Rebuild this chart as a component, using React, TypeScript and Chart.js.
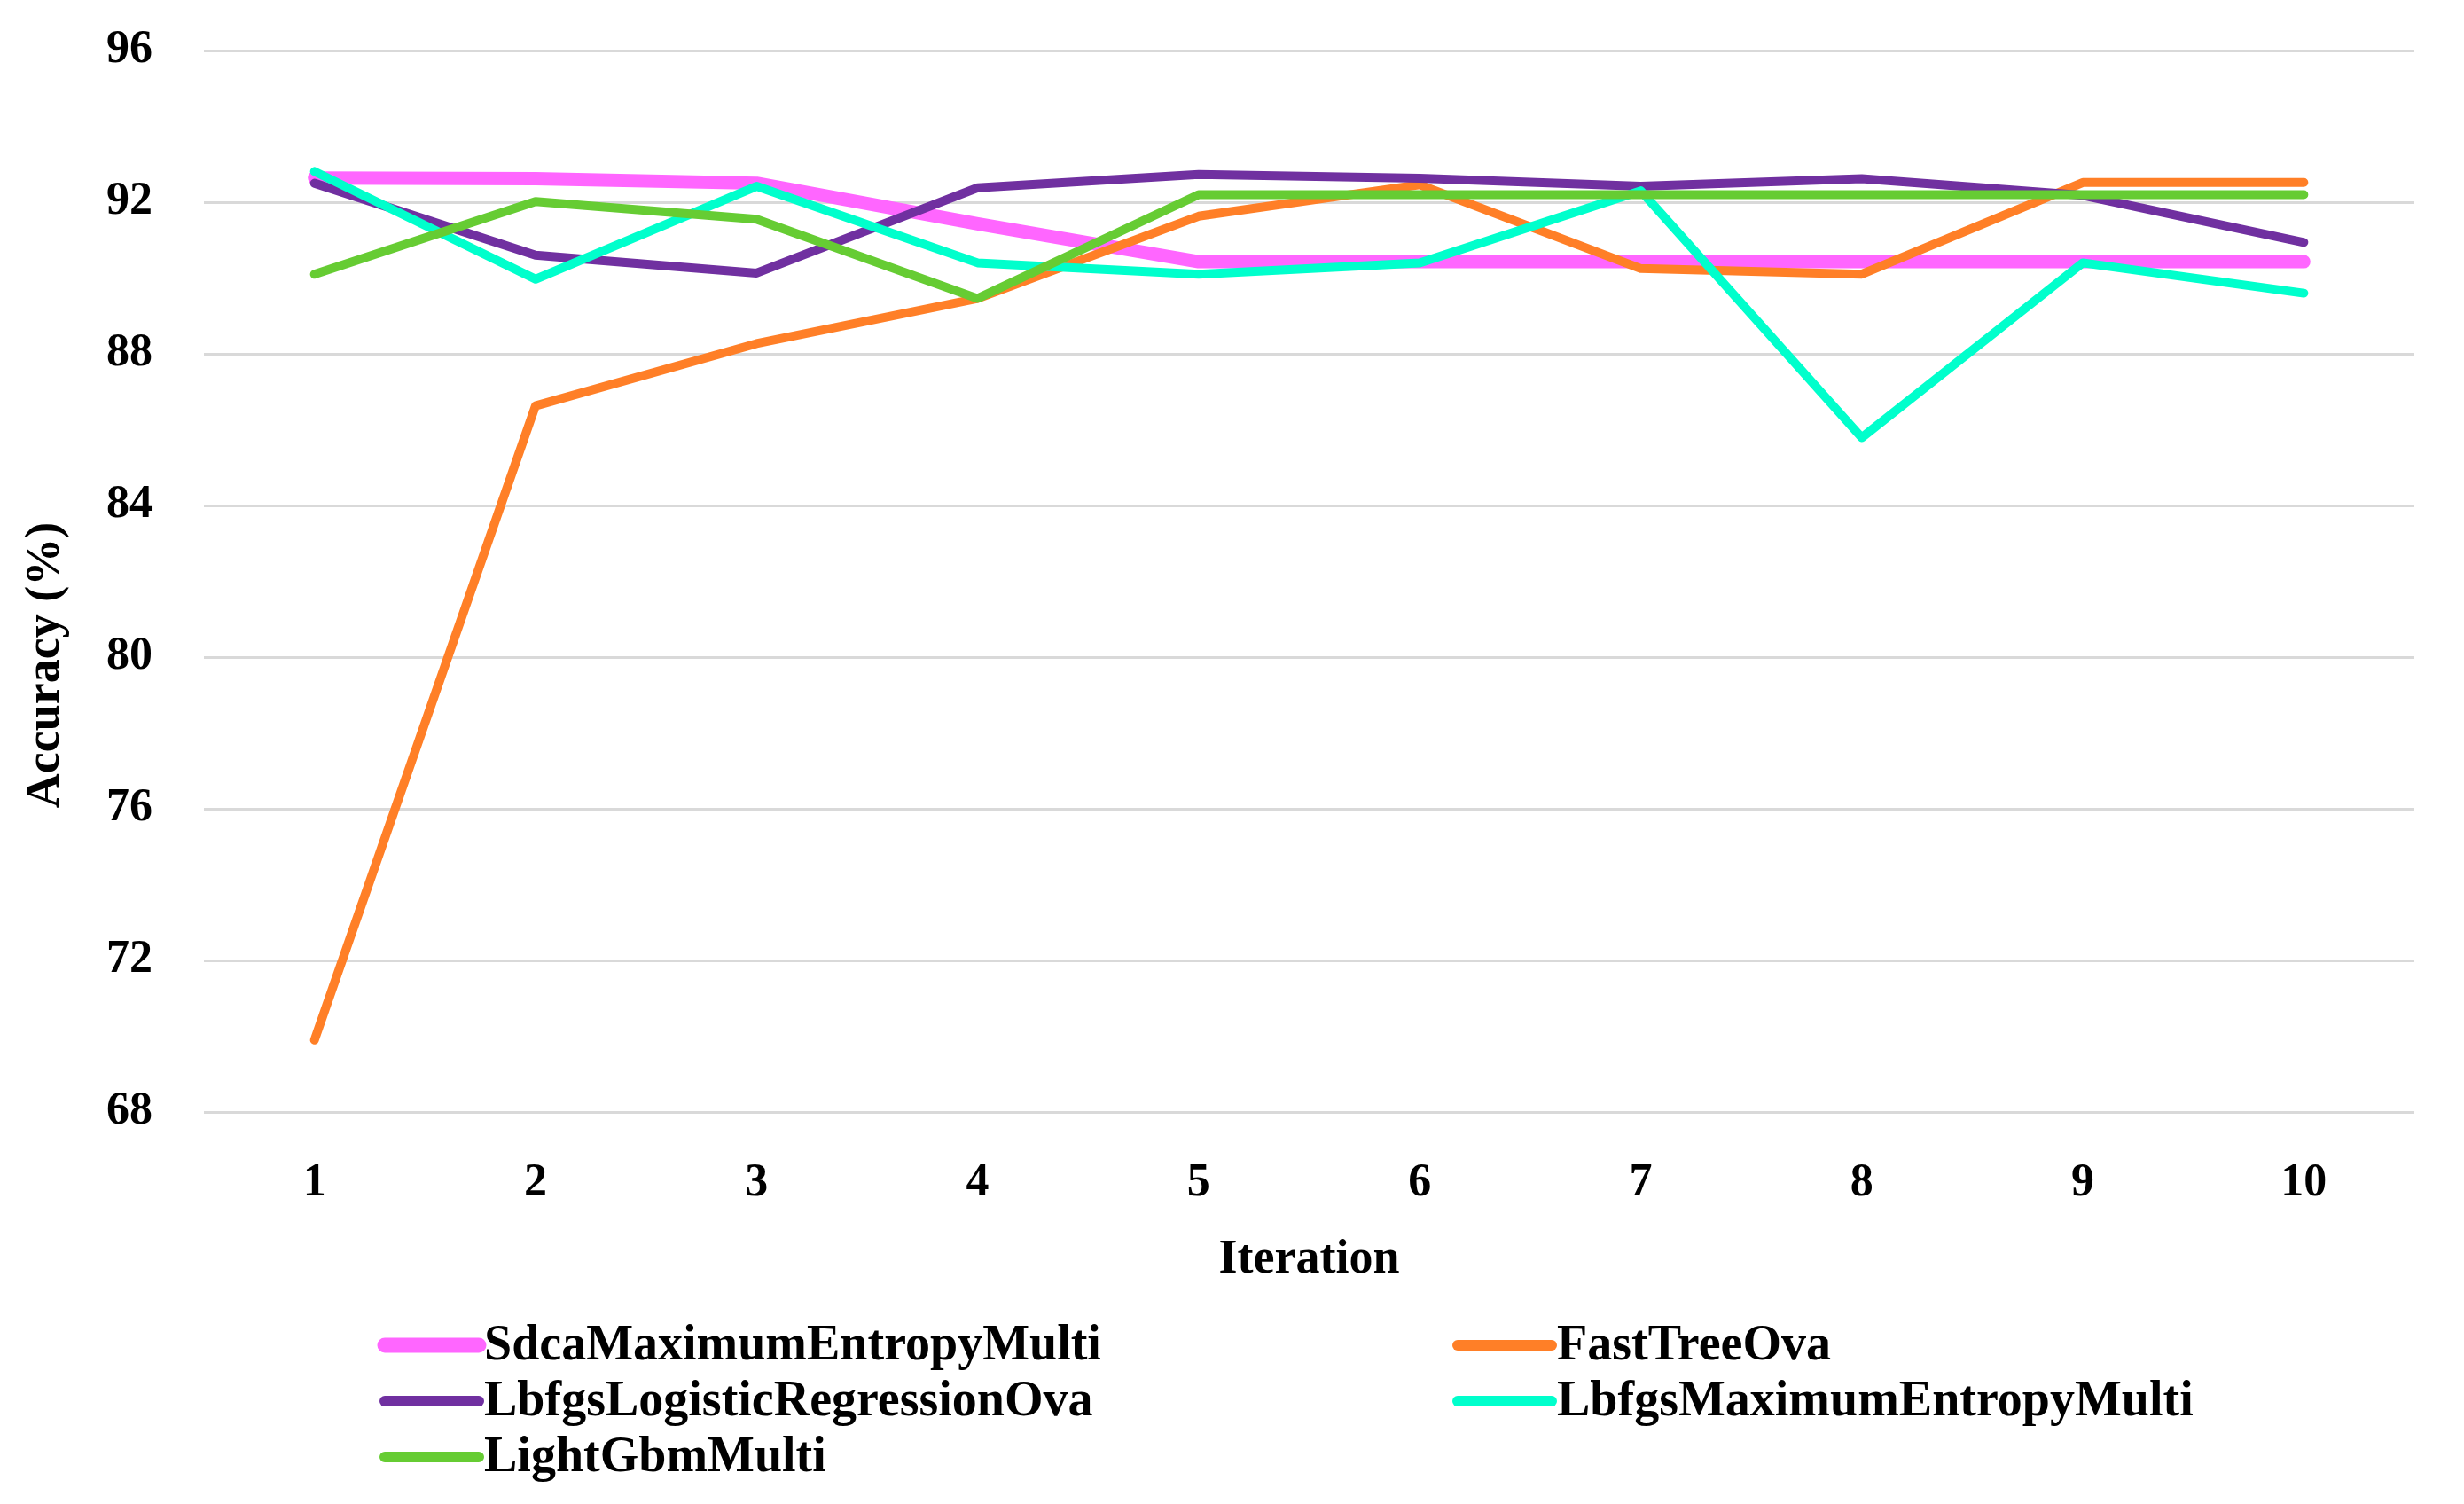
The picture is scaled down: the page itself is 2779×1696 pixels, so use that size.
import React, { useEffect, useRef } from "react";
import { Chart, registerables } from "chart.js";

Chart.register(...registerables);

const iterations = ["1", "2", "3", "4", "5", "6", "7", "8", "9", "10"];
const seriesNames = [
  "SdcaMaximumEntropyMulti",
  "FastTreeOva",
  "LbfgsLogisticRegressionOva",
  "LbfgsMaximumEntropyMulti",
  "LightGbmMulti",
];
const sdcaMaximumEntropyMulti = [92.64, 92.62, 92.5, 91.43, 90.43, 90.43, 90.43, 90.43, 90.43, 90.43];
const fastTreeOva = [69.9, 86.63, 88.27, 89.46, 91.63, 92.46, 90.25, 90.1, 92.52, 92.52];
const lbfgsLogisticRegressionOva = [92.5, 90.6, 90.13, 92.38, 92.73, 92.63, 92.42, 92.62, 92.18, 90.94];
const lbfgsMaximumEntropyMulti = [92.81, 89.97, 92.42, 90.4, 90.1, 90.4, 92.3, 85.79, 90.4, 89.6];
const lightGbmMulti = [90.1, 92.02, 91.55, 89.46, 92.2, 92.2, 92.2, 92.2, 92.2, 92.2];
const yTickMin = 68;
const yTickMax = 96;
const yTickStep = 4;

const seriesValues = [
  sdcaMaximumEntropyMulti,
  fastTreeOva,
  lbfgsLogisticRegressionOva,
  lbfgsMaximumEntropyMulti,
  lightGbmMulti,
];
const seriesColors = ["#FF66FF", "#FF7F27", "#7030A0", "#00FFCC", "#66CC33"];
const seriesWidths = [15, 10, 10, 10, 10];

const FONT = "'Liberation Serif', 'Times New Roman', serif";

const gridLegendPlugin = {
  id: "gridLegend",
  afterDraw(chart: any, _args: any, opts: any) {
    const ctx = chart.ctx;
    ctx.save();
    ctx.font = `bold ${opts.fontSize}px ${FONT}`;
    ctx.textBaseline = "middle";
    ctx.textAlign = "left";
    chart.data.datasets.forEach((ds: any, i: number) => {
      const col = i % 2;
      const row = Math.floor(i / 2);
      const x0 = opts.columnX[col];
      const y = opts.rowY[row];
      ctx.strokeStyle = ds.borderColor;
      ctx.lineWidth = ds.borderWidth + 2;
      ctx.lineCap = "round";
      ctx.beginPath();
      ctx.moveTo(x0, y);
      ctx.lineTo(x0 + opts.swatchWidth, y);
      ctx.stroke();
      ctx.fillStyle = "#000";
      ctx.fillText(ds.label, x0 + opts.swatchWidth + opts.gap, y + 2);
    });
    ctx.restore();
  },
};

export default function App() {
  const canvasRef = useRef<HTMLCanvasElement | null>(null);

  useEffect(() => {
    if (!canvasRef.current) return;
    const datasets = seriesNames.map((name, i) => ({
      label: name,
      data: seriesValues[i],
      borderColor: seriesColors[i],
      backgroundColor: seriesColors[i],
      borderWidth: seriesWidths[i],
      borderCapStyle: "round" as const,
      borderJoinStyle: "round" as const,
      pointRadius: 0,
      pointHoverRadius: 0,
      tension: 0,
      fill: false,
      order: seriesNames.length - i,
    }));

    const chart = new Chart(canvasRef.current, {
      type: "line",
      data: { labels: iterations, datasets },
      plugins: [gridLegendPlugin],
      options: {
        animation: false,
        responsive: true,
        maintainAspectRatio: false,
        layout: { padding: { top: 57, right: 56, bottom: 243, left: 0 } },
        plugins: {
          legend: { display: false },
          tooltip: { enabled: false },
          gridLegend: {
            fontSize: 56,
            columnX: [434, 1644],
            rowY: [1517, 1580, 1643],
            swatchWidth: 106,
            gap: 6,
          },
        } as any,
        scales: {
          x: {
            type: "category",
            offset: true,
            grid: { display: false, drawTicks: false },
            border: { display: false },
            ticks: {
              color: "#000",
              font: { family: FONT, size: 52, weight: "bold" },
              padding: 49,
              maxRotation: 0,
            },
            title: {
              display: true,
              text: "Iteration",
              color: "#000",
              font: { family: FONT, size: 54, weight: "bold" },
              padding: { top: 0, bottom: 0 },
            },
            afterFit: (scale: any) => {
              scale.height = 199;
            },
          },
          y: {
            min: yTickMin,
            max: yTickMax,
            grid: { color: "#D9D9D9", lineWidth: 3, drawTicks: false },
            border: { display: false },
            ticks: {
              stepSize: yTickStep,
              color: "#000",
              font: { family: FONT, size: 52, weight: "bold" },
              padding: 58,
            },
            title: {
              display: true,
              text: "Accuracy (%)" + "\u00A0".repeat(14),
              color: "#000",
              font: { family: FONT, size: 54, weight: "bold" },
              padding: { top: 20, bottom: 0 },
            },
            afterFit: (scale: any) => {
              scale.width = 230;
              scale.paddingTop = 0;
              scale.paddingBottom = 0;
            },
          },
        },
      },
    });
    return () => chart.destroy();
  }, []);

  return (
    <div style={{ position: "absolute", left: 0, top: 0, width: 2779, height: 1696, background: "#fff" }}>
      <canvas ref={canvasRef} />
    </div>
  );
}
